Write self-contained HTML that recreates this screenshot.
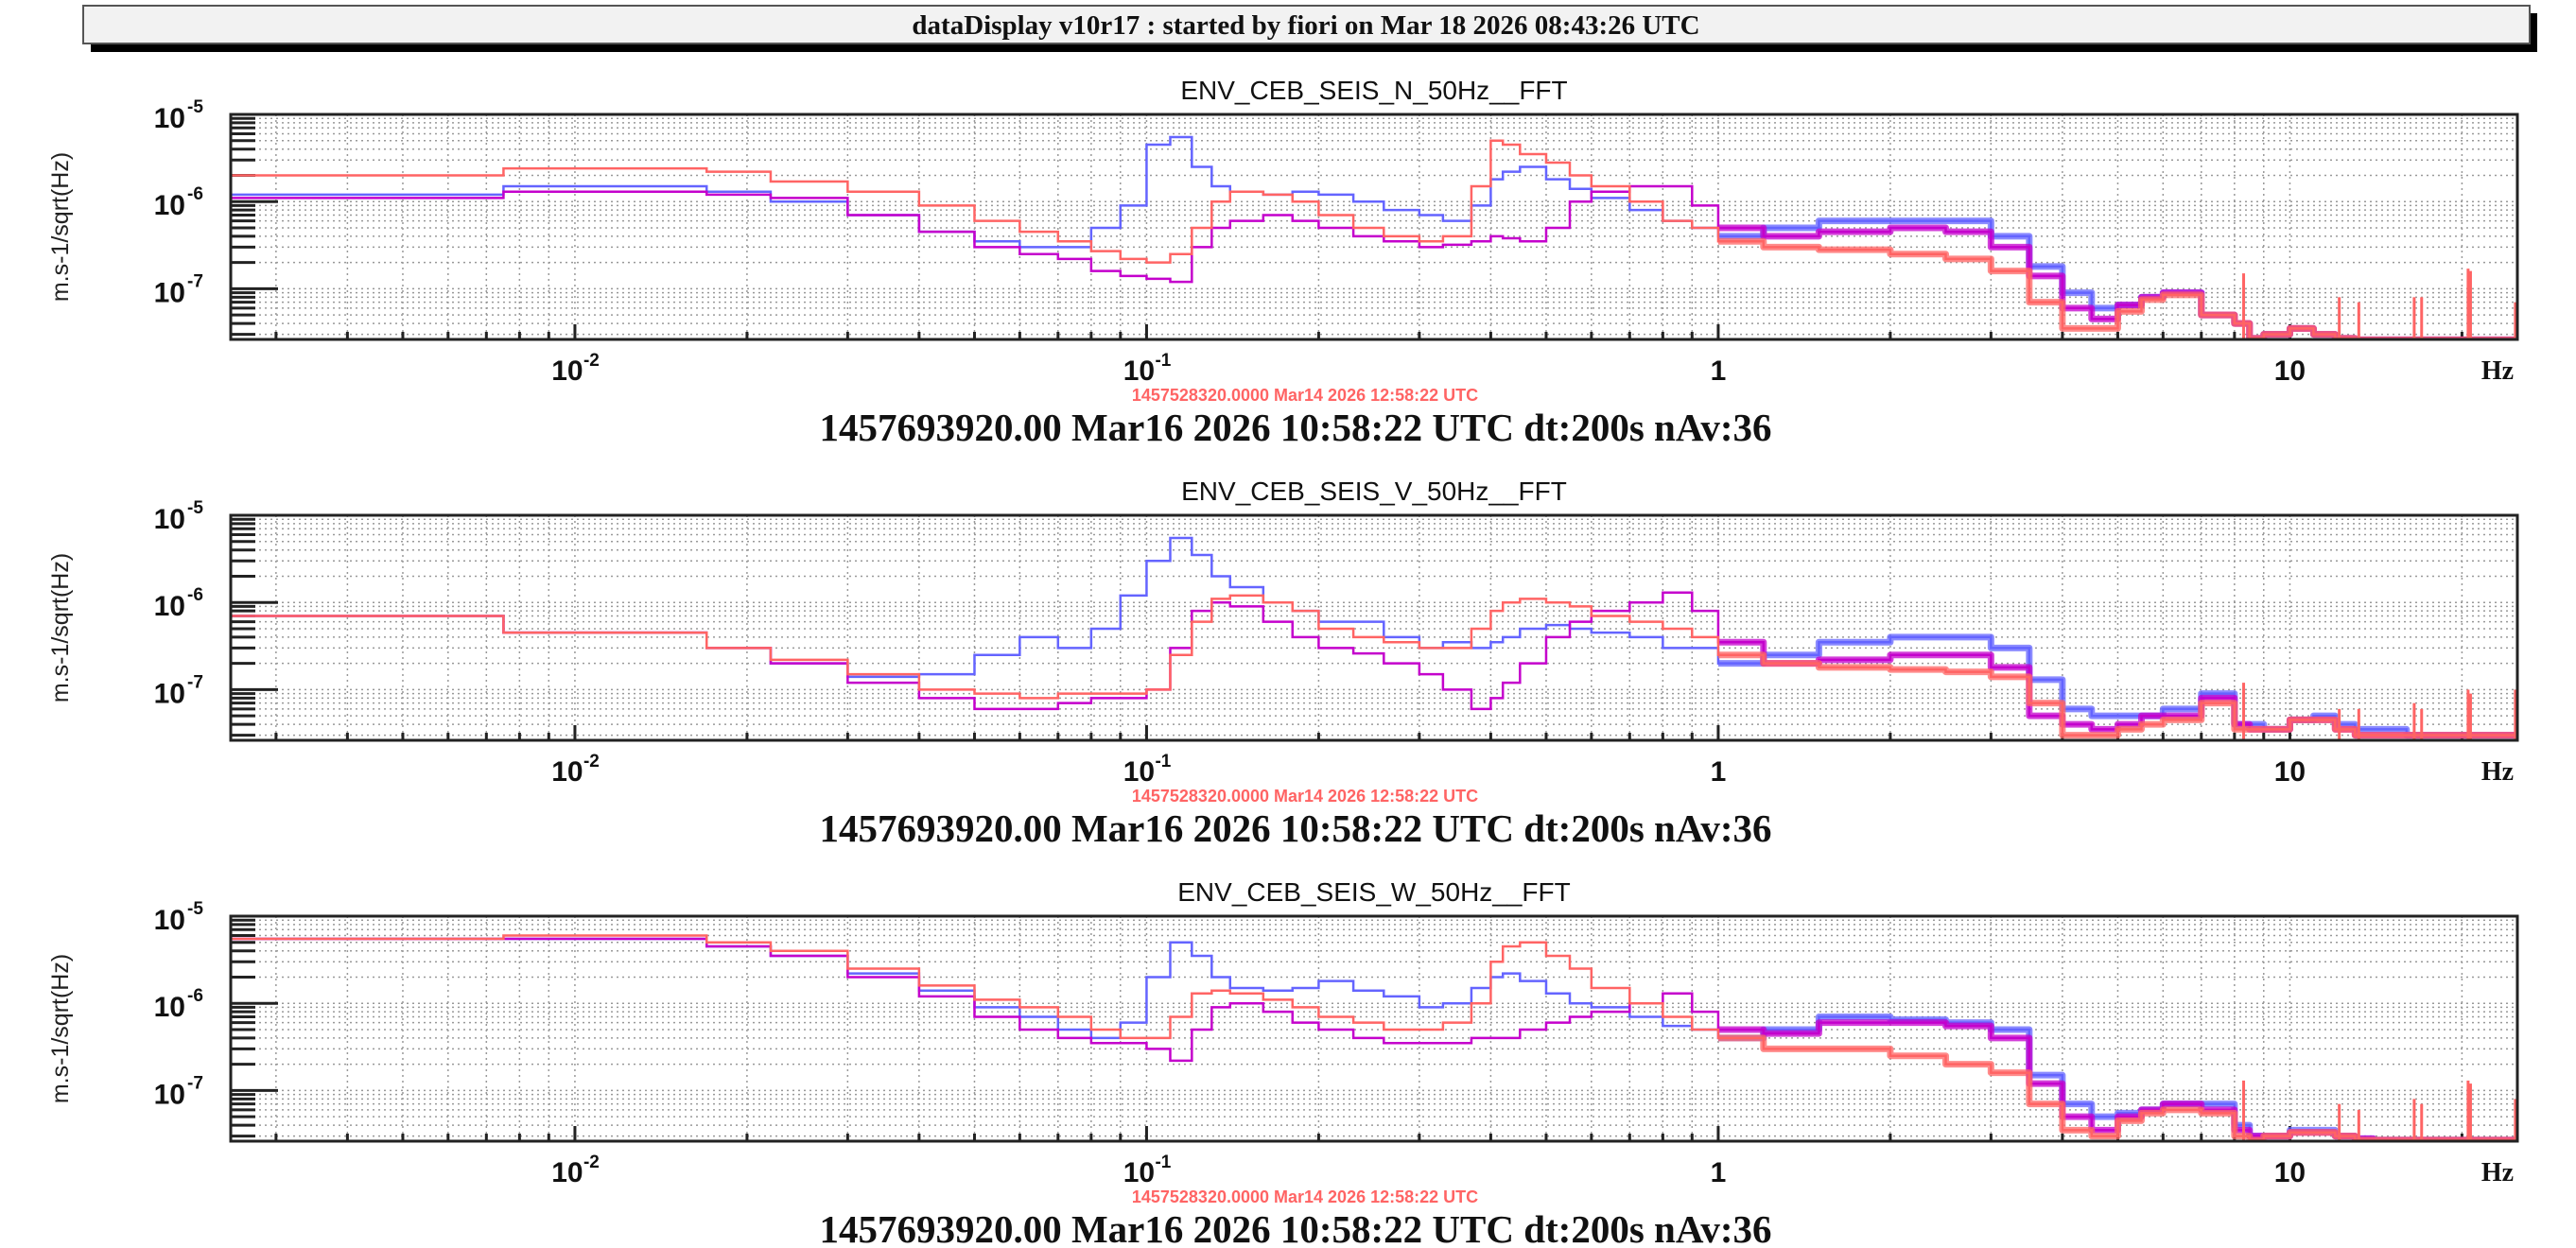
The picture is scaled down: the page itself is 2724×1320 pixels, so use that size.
<!DOCTYPE html>
<html><head><meta charset="utf-8">
<style>
html,body{margin:0;padding:0;background:#fff;}
body{width:2724px;height:1320px;position:relative;overflow:hidden;font-family:"Liberation Sans",sans-serif;}
svg{position:absolute;left:0;top:0;}
</style></head>
<body>
<svg id="chart" width="2724" height="1320" viewBox="0 0 2724 1320">
  <rect x="96" y="14" width="2587" height="41" fill="#000"/>
  <rect x="88" y="6" width="2587" height="40" fill="#f2f2f2" stroke="#555" stroke-width="2"/>
  <text x="1381" y="36" text-anchor="middle" font-family="Liberation Serif, serif" font-weight="bold" font-size="29" fill="#111">dataDisplay v10r17 : started by fiori on Mar 18 2026 08:43:26 UTC</text>
  <g id="panels"></g>
</svg>
<script>
// Shared frequency grid (Hz)
const freqs = [0.0025,0.0075,0.017,0.022,0.03,0.04,0.05,0.06,0.07,0.08,0.09,0.1,0.11,0.12,0.13,0.14,0.16,0.18,0.2,0.23,0.26,0.3,0.33,0.37,0.4,0.42,0.45,0.5,0.55,0.6,0.7,0.8,0.9,1.0,1.2,1.5,2.0,2.5,3.0,3.5,4.0,4.5,5.0,5.5,6.0,7.0,8.0,8.5,9,10,11,12,13,14,16,20,25];
// Values in units of 1e-7 m.s-1/sqrt(Hz)
const blueN = [12,15,13,10,7,4.5,3.5,3,3,5,9,45,55,25,15,13,12,13,12,10,8,7,6,9,18,22,25,18,14,11,8,6,5,4,5,6,6,6,4,1.8,0.9,0.6,0.65,0.8,0.9,0.5,0.4,0.27,0.3,0.35,0.3,0.27,0.26,0.26,0.26,0.26,0.26];
const magentaN = [11,13,12,11,7,4.5,3,2.5,2.2,1.6,1.4,1.3,1.2,3,5,6,7,6,5,4,3.5,3,3.2,3.5,4,3.8,3.5,5,10,13,15,15,9,5,4,4.5,5,4.5,3,1.4,0.6,0.45,0.65,0.8,0.9,0.5,0.4,0.27,0.3,0.35,0.3,0.27,0.26,0.26,0.26,0.26,0.26];
const redN = [20,24,22,17,13,9,6,4.5,3.5,2.7,2.2,2,2.5,5,10,13,12,10,7,5,4,3.5,4,15,50,45,35,28,20,15,10,6,5,3.5,3,2.8,2.5,2.2,1.6,0.7,0.35,0.35,0.55,0.75,0.85,0.5,0.4,0.27,0.3,0.35,0.3,0.27,0.26,0.26,0.26,0.26,0.26];
const blueV = [7,4.5,3,2,1.4,1.5,2.5,4,3,5,12,30,55,35,20,15,10,8,6,6,4,3,3.5,3,3.5,4,5,5.5,5,4.5,4,3,3,2,2.5,3.5,4,4,3,1.3,0.6,0.5,0.5,0.5,0.6,0.9,0.4,0.4,0.35,0.45,0.5,0.4,0.35,0.35,0.3,0.3,0.3];
const magentaV = [7,4.5,3,2,1.2,0.8,0.6,0.6,0.7,0.8,0.8,1,3,8,10,9,6,4,3,2.6,2,1.5,1,0.6,0.8,1.2,2,4,6,8,10,13,8,3.5,2,2.2,2.5,2.5,1.8,0.5,0.4,0.35,0.4,0.5,0.5,0.8,0.4,0.35,0.35,0.45,0.45,0.35,0.3,0.3,0.3,0.3,0.3];
const redV = [7,4.5,3,2.2,1.5,1,0.9,0.8,0.9,0.9,0.9,1,2.5,6,11,12,10,8,5,4,3.5,3,3,5,8,10,11,10,9,7,6,5,4,2.5,2,1.8,1.7,1.6,1.4,0.7,0.3,0.3,0.35,0.4,0.45,0.7,0.35,0.35,0.35,0.45,0.45,0.35,0.3,0.3,0.3,0.3,0.3];
const blueW = [55,55,45,35,22,14,9,7,5,4,6,20,50,35,20,15,14,15,18,14,12,9,10,15,20,22,18,13,10,9,7,5.5,5,4,5,7,6.5,6,5,1.5,0.7,0.5,0.55,0.6,0.7,0.7,0.4,0.3,0.3,0.35,0.35,0.3,0.28,0.27,0.27,0.27,0.27];
const magentaW = [55,55,45,35,20,12,7,5,4,3.5,3.5,3,2.2,5,9,10,8,6,5,4,3.5,3.5,3.5,4,4,4,5,6,7,8,10,13,8,5,4.5,6,6,5.5,4,1.2,0.5,0.35,0.5,0.6,0.7,0.6,0.35,0.3,0.3,0.33,0.33,0.3,0.28,0.27,0.27,0.27,0.27];
const redW = [55,60,50,40,25,16,11,9,7,5,4,4,7,13,14,13,11,9,7,6,5,5,6,10,30,45,50,35,25,15,10,7,5,4,3,3,2.5,2,1.6,0.7,0.35,0.3,0.45,0.55,0.6,0.55,0.3,0.27,0.3,0.33,0.33,0.3,0.27,0.27,0.27,0.27,0.27];
// Red line spikes at high frequency
const spikeFreqs = [8.3,12.2,13.2,16.5,17.0,20.5,20.7,24.8];
const spikeValsN = [1.5,0.8,0.7,0.8,0.8,1.7,1.6,0.7];
const spikeValsV = [1.2,0.6,0.6,0.7,0.6,1.0,0.9,1.0];
const spikeValsW = [1.3,0.7,0.6,0.8,0.7,1.3,1.2,0.8];
const panelTitles = ["ENV_CEB_SEIS_N_50Hz__FFT","ENV_CEB_SEIS_V_50Hz__FFT","ENV_CEB_SEIS_W_50Hz__FFT"];
const xTickVals = [0.01,0.1,1,10];
const xTickLabels = [["10","-2"],["10","-1"],["1",""],["10",""]];
const yTickExps = [-5,-6,-7];

const NS="http://www.w3.org/2000/svg";
const root=document.getElementById('panels');
function mk(tag,attrs,parent){const e=document.createElementNS(NS,tag);for(const k in attrs)e.setAttribute(k,attrs[k]);(parent||root).appendChild(e);return e;}
const X0=244,X1=2662,FMIN=0.0025,FMAX=25,YMAXLOG=-5,PH=238,DEC=92.2;
const YMINLOG=YMAXLOG-PH/DEC;
function xs(f){return X0+(Math.log10(f)-Math.log10(FMIN))/(Math.log10(FMAX)-Math.log10(FMIN))*(X1-X0);}

const panelData=[[blueN,magentaN,redN,spikeValsN],[blueV,magentaV,redV,spikeValsV],[blueW,magentaW,redW,spikeValsW]];
const colors=["#6464ff","#c400cc","#ff6464"];
const seriesNames=["blue","magenta","red"];

panelData.forEach((pd,pi)=>{
  const top=121+pi*424, bot=top+PH;
  const ys=v=>top+(YMAXLOG-Math.log10(v*1e-7))*DEC;
  const g=mk('g',{});
  
  
  const cid='clip'+pi;
  const cp=mk('clipPath',{id:cid},g);mk('rect',{x:X0,y:top,width:X1-X0,height:PH},cp);
  const t=mk('text',{x:1453,y:top-16,'text-anchor':'middle','font-size':28,fill:'#111'},g);
  t.textContent=panelTitles[pi];
  
  
  const grid=mk('g',{stroke:'#999','stroke-width':1.5,'stroke-dasharray':'2,4'},g);
  
  
  for(let d=-3;d<=1;d++)for(let m=1;m<10;m++){const f=m*Math.pow(10,d);if(f<=FMIN||f>=FMAX)continue;const x=xs(f);mk('line',{x1:x,y1:top,x2:x,y2:bot},grid);}
  for(let d=-8;d<=-6;d++)for(let m=1;m<10;m++){const lv=Math.log10(m)+d;if(lv<=YMINLOG||lv>=YMAXLOG)continue;const y=top+(YMAXLOG-lv)*DEC;mk('line',{x1:X0,y1:y,x2:X1,y2:y},grid);}
  const tk=mk('g',{stroke:'#222','stroke-width':3},g);
  
  
  for(let d=-8;d<=-5;d++)for(let m=1;m<10;m++){const lv=Math.log10(m)+d;if(lv<YMINLOG||lv>YMAXLOG+0.001)continue;const y=top+(YMAXLOG-lv)*DEC;mk('line',{x1:X0,y1:y,x2:X0+(m==1?50:26),y2:y},tk);}
  for(let d=-3;d<=1;d++)for(let m=1;m<10;m++){const f=m*Math.pow(10,d);if(f<=FMIN||f>=FMAX)continue;const x=xs(f);mk('line',{x1:x,y1:bot,x2:x,y2:bot-(m==1?16:8)},tk);}
  const sg=mk('g',{'clip-path':'url(#'+cid+')'},g);
  [0,1,2].forEach(si=>{
    const vals=pd[si];
    let d='',dh='';
    for(let i=0;i<freqs.length;i++){
      const x=xs(freqs[i]),xn=i+1<freqs.length?xs(freqs[i+1]):X1,y=ys(vals[i]);
      d+=(i==0?'M'+x+','+bot+' L':' L')+x+','+y+' L'+xn+','+y;
      if(freqs[i]>=1) dh+=(dh===''?'M':' L')+x+','+y+' L'+xn+','+y;
    }
    const band=mk('path',{d:dh,fill:'none',stroke:colors[si],'stroke-width':7,'stroke-opacity':0.75,'stroke-linejoin':'round'},sg);
    
    
    const p=mk('path',{d:d,fill:'none',stroke:colors[si],'stroke-width':2.5},sg);
    
    
  });
  spikeFreqs.forEach((f,k)=>{const x=xs(f);const l=mk('line',{x1:x,y1:bot,x2:x,y2:ys(pd[3][k]),stroke:'#ff6464','stroke-width':3},sg);
    
    });
  const fr=mk('rect',{x:X0,y:top,width:X1-X0,height:PH,fill:'none',stroke:'#222','stroke-width':3},g);
  
  
  yTickExps.forEach(e=>{const y=top+(YMAXLOG-e)*DEC;
    const tx=mk('text',{x:196,y:y+14,'text-anchor':'end','font-size':30,'font-weight':'bold',fill:'#111'},g);
    tx.textContent='10';
    
    
    const sup=mk('text',{x:198,y:y-2,'font-size':19,'font-weight':'bold',fill:'#111'},g);sup.textContent=String(e);
    
    });
  const yt=mk('text',{x:0,y:0,'text-anchor':'middle','font-size':25,fill:'#222',transform:'translate(72,'+(top+PH/2)+') rotate(-90)'},g);
  yt.textContent='m.s-1/sqrt(Hz)';
  
  
  xTickVals.forEach((f,k)=>{const x=xs(f);const lb=xTickLabels[k];
    const w=lb[1]?-8:0;
    const tx=mk('text',{x:x+w,y:bot+43,'text-anchor':'middle','font-size':30,'font-weight':'bold',fill:'#111'},g);tx.textContent=lb[0];
    
    
    if(lb[1]){const s=mk('text',{x:x+9,y:bot+28,'font-size':19,'font-weight':'bold',fill:'#111'},g);s.textContent=lb[1];
      
      }});
  const hz=mk('text',{x:2641,y:bot+42,'text-anchor':'middle','font-family':'Liberation Serif, serif','font-weight':'bold','font-size':28,fill:'#111'},g);
  hz.textContent='Hz';
  
  
  const rt=mk('text',{x:1380,y:bot+65,'text-anchor':'middle','font-size':18,'font-weight':'bold',fill:'#ff6464'},g);
  rt.textContent='1457528320.0000 Mar14 2026 12:58:22 UTC';
  
  
  const bt=mk('text',{x:1370,y:bot+107,'text-anchor':'middle','font-family':'Liberation Serif, serif','font-weight':'bold','font-size':41,fill:'#111'},g);
  bt.textContent='1457693920.00 Mar16 2026 10:58:22 UTC dt:200s nAv:36';
  
  
});
</script>
</body></html>
